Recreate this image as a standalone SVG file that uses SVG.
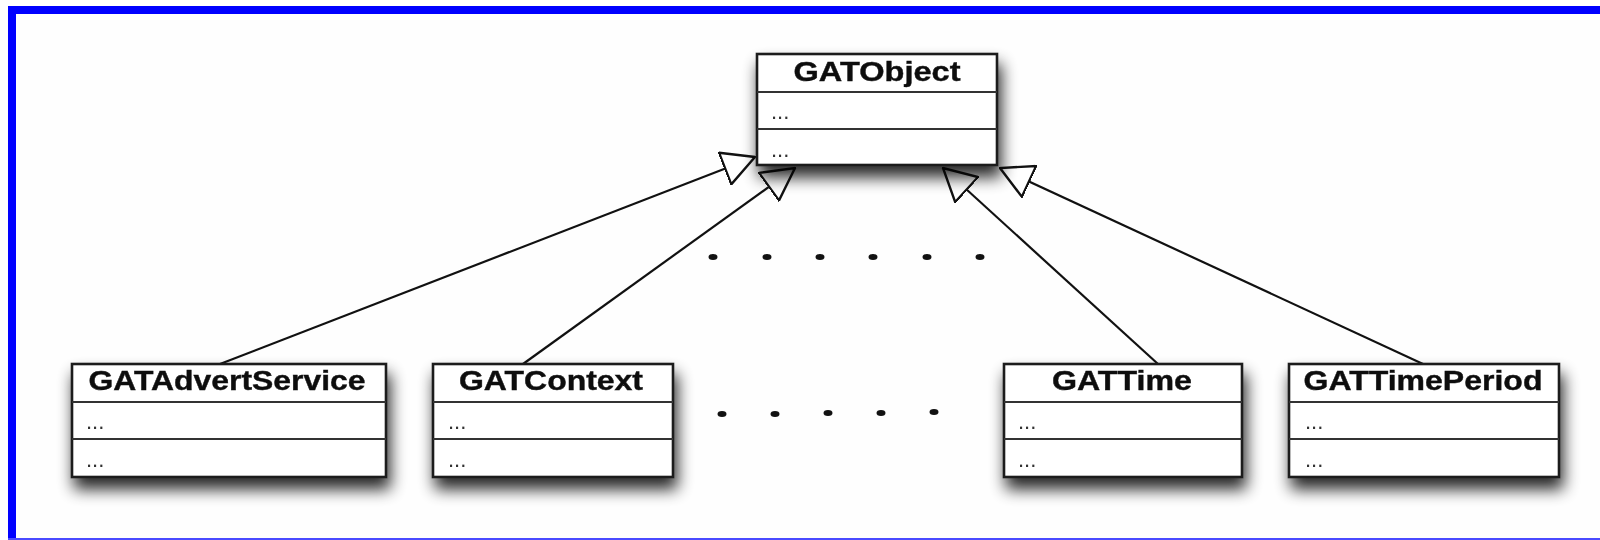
<svg xmlns="http://www.w3.org/2000/svg" width="1600" height="540" viewBox="0 0 1600 540">
  <defs>
    <filter id="drop" x="-15%" y="-30%" width="135%" height="190%">
      <feGaussianBlur in="SourceAlpha" stdDeviation="8"/>
      <feOffset dx="3" dy="11" result="blur"/>
      <feComponentTransfer><feFuncA type="linear" slope="0.85"/></feComponentTransfer>
      <feMerge><feMergeNode/><feMergeNode in="SourceGraphic"/></feMerge>
    </filter>
    <marker id="inherit" viewBox="0 0 34 36" refX="33" refY="18" markerWidth="34" markerHeight="36" markerUnits="userSpaceOnUse" orient="auto">
      <path d="M1,1 L33,18 L1,35 Z" fill="#ffffff" stroke="#111" stroke-width="2.4" stroke-linejoin="miter"/>
    </marker>
    <style>
      .box { fill: #ffffff; stroke: #1a1a1a; stroke-width: 2.6; }
      .sep { stroke: #333; stroke-width: 2.2; }
      .title { font-family: "Liberation Sans", Arial, sans-serif; font-weight: bold; font-size: 27px; fill: #111; text-anchor: middle; stroke: #111; stroke-width: 0.4; }
      .member { font-family: "Liberation Sans", Arial, sans-serif; font-size: 22px; fill: #333; }
      .link { stroke: #111; stroke-width: 2.2; fill: none; marker-end: url(#inherit); }
      .dot { fill: #111; }
    </style>
  </defs>

  <rect x="0" y="0" width="1600" height="540" fill="#fefefe"/>

  <!-- frame -->
  <rect x="8" y="6" width="1592" height="8" fill="#0000ff"/>
  <rect x="8" y="6" width="8" height="534" fill="#0000ff"/>
  <rect x="8" y="538" width="1592" height="2" fill="#4a4aff"/>

  <!-- inheritance connectors -->
  <g id="connectors">
    <line class="link" x1="220" y1="364" x2="755" y2="157"/>
    <line class="link" x1="523" y1="364" x2="795" y2="168"/>
    <line class="link" x1="1158" y1="364" x2="943" y2="168"/>
    <line class="link" x1="1423" y1="364" x2="1000" y2="168"/>
  </g>

  <!-- ellipsis rows between subclasses -->
  <g id="dots-upper">
    <ellipse class="dot" cx="713" cy="257" rx="4.5" ry="3"/>
    <ellipse class="dot" cx="767" cy="257" rx="4.5" ry="3"/>
    <ellipse class="dot" cx="820" cy="257" rx="4.5" ry="3"/>
    <ellipse class="dot" cx="873" cy="257" rx="4.5" ry="3"/>
    <ellipse class="dot" cx="927" cy="257" rx="4.5" ry="3"/>
    <ellipse class="dot" cx="980" cy="257" rx="4.5" ry="3"/>
  </g>
  <g id="dots-lower">
    <ellipse class="dot" cx="722" cy="414" rx="4.5" ry="3"/>
    <ellipse class="dot" cx="775" cy="414" rx="4.5" ry="3"/>
    <ellipse class="dot" cx="828" cy="413" rx="4.5" ry="3"/>
    <ellipse class="dot" cx="881" cy="413" rx="4.5" ry="3"/>
    <ellipse class="dot" cx="934" cy="412" rx="4.5" ry="3"/>
  </g>

  <g id="GATObject" filter="url(#drop)">
    <rect class="box" x="757" y="54" width="240" height="111"/>
    <line class="sep" x1="757" y1="92" x2="997" y2="92"/>
    <line class="sep" x1="757" y1="129" x2="997" y2="129"/>
    <text class="title" x="877" y="81" textLength="167" lengthAdjust="spacingAndGlyphs">GATObject</text>
    <text class="member" x="771" y="119">...</text>
    <text class="member" x="771" y="157">...</text>
  </g>

  <g id="GATAdvertService" filter="url(#drop)">
    <rect class="box" x="72" y="364" width="314" height="113"/>
    <line class="sep" x1="72" y1="402" x2="386" y2="402"/>
    <line class="sep" x1="72" y1="439" x2="386" y2="439"/>
    <text class="title" x="227" y="390" textLength="277" lengthAdjust="spacingAndGlyphs">GATAdvertService</text>
    <text class="member" x="86" y="429">...</text>
    <text class="member" x="86" y="467">...</text>
  </g>

  <g id="GATContext" filter="url(#drop)">
    <rect class="box" x="433" y="364" width="240" height="113"/>
    <line class="sep" x1="433" y1="402" x2="673" y2="402"/>
    <line class="sep" x1="433" y1="439" x2="673" y2="439"/>
    <text class="title" x="551" y="390" textLength="184" lengthAdjust="spacingAndGlyphs">GATContext</text>
    <text class="member" x="448" y="429">...</text>
    <text class="member" x="448" y="467">...</text>
  </g>

  <g id="GATTime" filter="url(#drop)">
    <rect class="box" x="1004" y="364" width="238" height="113"/>
    <line class="sep" x1="1004" y1="402" x2="1242" y2="402"/>
    <line class="sep" x1="1004" y1="439" x2="1242" y2="439"/>
    <text class="title" x="1122" y="390" textLength="140" lengthAdjust="spacingAndGlyphs">GATTime</text>
    <text class="member" x="1018" y="429">...</text>
    <text class="member" x="1018" y="467">...</text>
  </g>

  <g id="GATTimePeriod" filter="url(#drop)">
    <rect class="box" x="1289" y="364" width="270" height="113"/>
    <line class="sep" x1="1289" y1="402" x2="1559" y2="402"/>
    <line class="sep" x1="1289" y1="439" x2="1559" y2="439"/>
    <text class="title" x="1423" y="390" textLength="239" lengthAdjust="spacingAndGlyphs">GATTimePeriod</text>
    <text class="member" x="1305" y="429">...</text>
    <text class="member" x="1305" y="467">...</text>
  </g>
</svg>
